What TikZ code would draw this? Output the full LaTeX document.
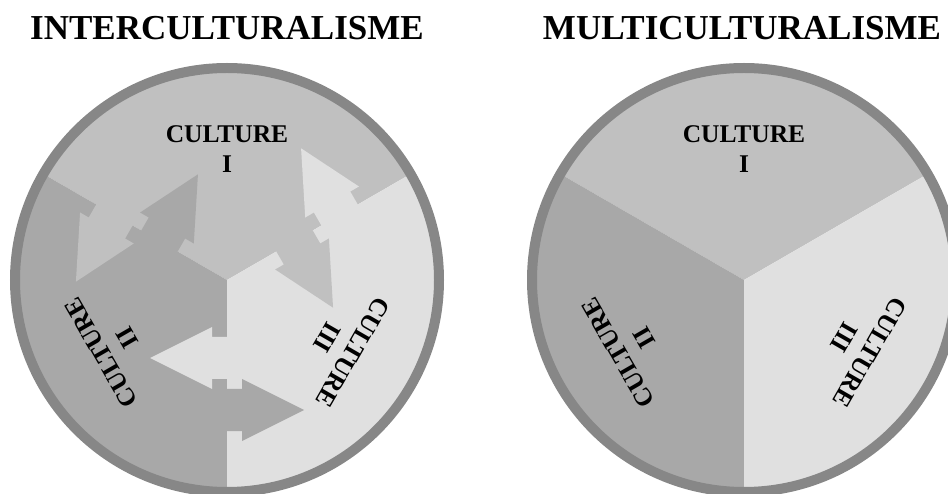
\documentclass[tikz,border=0pt]{standalone}
\usepackage{fontspec}
\setmainfont{Liberation Serif}
\usepackage{tikz}
\definecolor{cultI}{RGB}{192,192,192}
\definecolor{cultII}{RGB}{168,168,168}
\definecolor{cultIII}{RGB}{224,224,224}
\definecolor{rimgray}{RGB}{135,135,135}
\tikzstyle{title} = [font=\fontsize{35}{40}\selectfont\bfseries, anchor=base, inner sep=0pt]
\tikzstyle{culture} = [font=\fontsize{25.5}{30}\selectfont\bfseries, anchor=base, inner sep=0pt]
\tikzstyle{rim} = [draw=rimgray, line width=10pt]

\begin{document}
\begin{tikzpicture}[x=1pt, y=1pt]
  \useasboundingbox (0,0) rectangle (948,493);
  \coordinate (inter_c) at (227,213);
  \coordinate (multi_c) at (744,213);
  \node (inter_title) [title] at (227,453) {INTERCULTURALISME};
  \node (multi_title) [title] at (742,453) {MULTICULTURALISME};

  % interculturalisme
  \fill[cultI] (inter_c) -- ++(30:212) arc (30:150:212) -- cycle;
  \fill[cultII] (inter_c) -- ++(150:212) arc (150:270:212) -- cycle;
  \fill[cultIII] (inter_c) -- ++(270:212) arc (270:390:212) -- cycle;
  \begin{scope}[shift={(inter_c)}]
    \fill[cultIII] (2,-57) -- (-15,-57) -- (-15,-47) -- (-77,-78) -- (-15,-109) -- (-15,-99) -- (2,-99) -- cycle;
    \fill[cultII] (-2,-109) -- (15,-109) -- (15,-99) -- (77,-130) -- (15,-161) -- (15,-151) -- (-2,-151) -- cycle;
  \end{scope}
  \begin{scope}[shift={(inter_c)}, rotate=120]
    \fill[cultI] (2,-57) -- (-15,-57) -- (-15,-47) -- (-77,-78) -- (-15,-109) -- (-15,-99) -- (2,-99) -- cycle;
    \fill[cultIII] (-2,-109) -- (15,-109) -- (15,-99) -- (77,-130) -- (15,-161) -- (15,-151) -- (-2,-151) -- cycle;
  \end{scope}
  \begin{scope}[shift={(inter_c)}, rotate=240]
    \fill[cultII] (2,-57) -- (-15,-57) -- (-15,-47) -- (-77,-78) -- (-15,-109) -- (-15,-99) -- (2,-99) -- cycle;
    \fill[cultI] (-2,-109) -- (15,-109) -- (15,-99) -- (77,-130) -- (15,-161) -- (15,-151) -- (-2,-151) -- cycle;
  \end{scope}
  \draw[rim] (inter_c) circle (212);
  \begin{scope}[shift={(inter_c)}, transform shape]
    \node (inter_cult1) [culture] at (0,137) {CULTURE};
    \node (inter_num1) [culture] at (0,107) {I};
  \end{scope}
  \begin{scope}[shift={(inter_c)}, rotate=120, transform shape]
    \node (inter_cult2) [culture] at (0,137) {CULTURE};
    \node (inter_num2) [culture] at (0,107) {II};
  \end{scope}
  \begin{scope}[shift={(inter_c)}, rotate=240, transform shape]
    \node (inter_cult3) [culture] at (0,137) {CULTURE};
    \node (inter_num3) [culture] at (0,107) {III};
  \end{scope}

  % multiculturalisme
  \fill[cultI] (multi_c) -- ++(30:212) arc (30:150:212) -- cycle;
  \fill[cultII] (multi_c) -- ++(150:212) arc (150:270:212) -- cycle;
  \fill[cultIII] (multi_c) -- ++(270:212) arc (270:390:212) -- cycle;
  \draw[rim] (multi_c) circle (212);
  \begin{scope}[shift={(multi_c)}, transform shape]
    \node (multi_cult1) [culture] at (0,137) {CULTURE};
    \node (multi_num1) [culture] at (0,107) {I};
  \end{scope}
  \begin{scope}[shift={(multi_c)}, rotate=120, transform shape]
    \node (multi_cult2) [culture] at (0,137) {CULTURE};
    \node (multi_num2) [culture] at (0,107) {II};
  \end{scope}
  \begin{scope}[shift={(multi_c)}, rotate=240, transform shape]
    \node (multi_cult3) [culture] at (0,137) {CULTURE};
    \node (multi_num3) [culture] at (0,107) {III};
  \end{scope}
\end{tikzpicture}
\end{document}
